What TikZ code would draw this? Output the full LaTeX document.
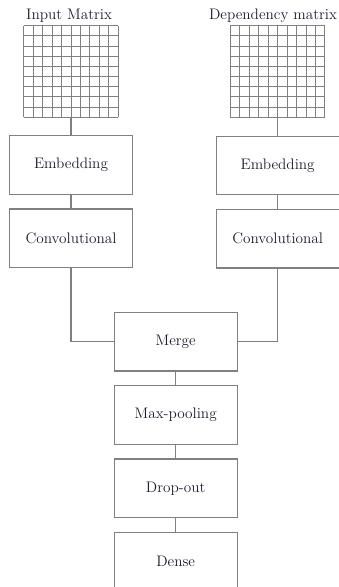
\documentclass[tikz,border=0pt]{standalone}
\usepackage{tikz}
\usetikzlibrary{positioning, calc}

\begin{document}
\begin{tikzpicture}[x=0.03cm, y=-0.03cm, font=\fontsize{13}{15}\selectfont, node distance=0.4cm]
    \definecolor{lc}{RGB}{128, 128, 128} \definecolor{tc}{RGB}{25, 28, 45}
    \tikzset{layer/.style={draw=lc, line width=1.1pt, minimum width=3.69cm, minimum height=1.76cm, inner sep=0pt, text=tc},
             wire/.style={draw=lc, line width=0.9pt},
             matbox/.style={minimum width=2.82cm, minimum height=2.73cm, inner sep=0pt},
             cell/.style={draw=lc, line width=0.8pt}}
    \useasboundingbox (0,0) rectangle (339,587);
    \clip (0,0) rectangle (339,587);

    \node[matbox] (matL) at (71,71.5) {};
    \node[matbox] (matR) at (277.7,71.5) {};
    \foreach \m in {matL, matR} {
        \foreach \i in {0,...,10} \draw[cell] ($(\m.north west)!\i/10!(\m.north east)$) -- ($(\m.south west)!\i/10!(\m.south east)$);
        \foreach \j in {0,...,9} \draw[cell] ($(\m.north west)!\j/9!(\m.south west)$) -- ($(\m.north east)!\j/9!(\m.south east)$);
    }
    \node[anchor=base, text=tc] (titleL) at (69,19) {Input Matrix};
    \node[anchor=base, text=tc] (titleR) at (273,19) {Dependency matrix};

    \node[layer] (embL) at (71,165) {Embedding};
    \node[layer, below=of embL] (convL) {Convolutional};
    \node[layer] (embR) at (277.7,165.5) {Embedding};
    \node[layer, below=of embR] (convR) {Convolutional};

    \node[layer] (merge) at (175.7,341.7) {Merge};
    \node[layer, below=of merge] (maxp) {Max-pooling};
    \node[layer, below=of maxp] (drop) {Drop-out};
    \node[layer, below=of drop] (dense) {Dense};

    \draw[wire] (matL) -- (embL);
    \draw[wire] (embL) -- (convL);
    \draw[wire] (matR) -- (embR);
    \draw[wire] (embR) -- (convR);
    \draw[wire] (convL.south) |- (merge.west);
    \draw[wire] (convR.south) |- (merge.east);
    \draw[wire] (merge) -- (maxp);
    \draw[wire] (maxp) -- (drop);
    \draw[wire] (drop) -- (dense);
\end{tikzpicture}
\end{document}
